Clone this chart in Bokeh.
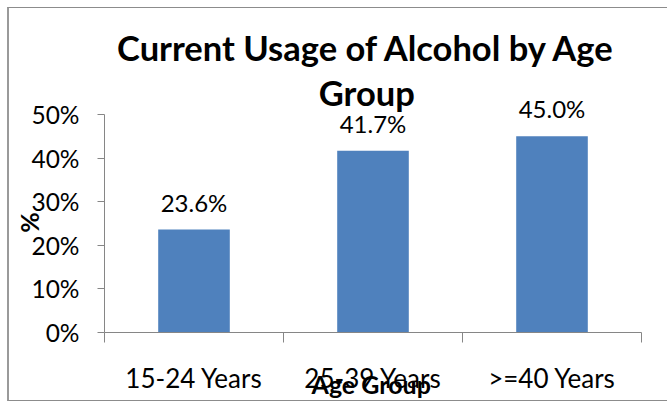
import numpy as np
from bokeh.plotting import figure
from bokeh.models import Range1d, FixedTicker, LabelSet, Label, ColumnDataSource
from bokeh.core.properties import value
from bokeh.embed import file_html
from bokeh.resources import INLINE

categories = ["15-24 Years", "25-39 Years", ">=40 Years"]
values = [0.236, 0.417, 0.450]
value_labels = ["23.6%", "41.7%", "45.0%"]
y_ticks = [0.0, 0.1, 0.2, 0.3, 0.4, 0.5]
y_tick_labels = ["0%", "10%", "20%", "30%", "40%", "50%"]
title_lines = ["Current Usage of Alcohol by Age", "Group"]
x_title = "Age Group"
y_title = "%"

FONT = "Lato"
AXIS_COLOR = "#868686"
BAR_COLOR = "#4F81BD"

# canvas geometry (pixels)
W, H = 660, 394
X0_PX, XN_PX = 95, 632      # x axis start / end on canvas
Y0_PX, YTOP_PX = 324, 106   # 0% and 50% on canvas
n = len(categories)
ux = (XN_PX - X0_PX) / n
uy = (Y0_PX - YTOP_PX) / 0.5

centers = np.arange(n) + 0.5
src = ColumnDataSource(dict(x=centers, top=values, label=value_labels))

p = figure(width=W, height=H, output_backend="svg", toolbar_location=None,
           x_range=Range1d(-X0_PX / ux, (W - X0_PX) / ux),
           y_range=Range1d(-(H - Y0_PX) / uy, Y0_PX / uy),
           min_border=0, min_border_left=0, min_border_right=0,
           min_border_top=0, min_border_bottom=0)
p.styles = {"margin-left": "7px", "margin-top": "7px",
            "border-left": "2px solid #9a9a9a", "border-top": "1px solid #8c8c8c",
            "border-bottom": "1px solid #8c8c8c"}
p.grid.visible = False
p.outline_line_color = None
p.background_fill_color = "white"
p.border_fill_color = "white"

p.vbar(x="x", top="top", width=0.4, source=src, fill_color=BAR_COLOR, line_color=None)

xa = p.xaxis[0]
xa.fixed_location = 0
xa.bounds = (0, n)
xa.ticker = FixedTicker(ticks=list(centers), minor_ticks=list(range(n + 1)))
xa.major_label_overrides = {float(c): cat for c, cat in zip(centers, categories)}
xa.major_tick_line_color = None
xa.major_tick_out = 0
xa.major_tick_in = 0
xa.minor_tick_out = 10
xa.minor_tick_in = 0
xa.minor_tick_line_color = AXIS_COLOR
xa.axis_line_color = AXIS_COLOR
xa.major_label_standoff = 19
xa.major_label_text_font = FONT
xa.major_label_text_font_size = "26px"
xa.major_label_text_color = "black"

ya = p.yaxis[0]
ya.fixed_location = 0
ya.bounds = (0, 0.5)
ya.ticker = FixedTicker(ticks=y_ticks, minor_ticks=[])
ya.major_label_overrides = {t: l for t, l in zip(y_ticks, y_tick_labels)}
ya.major_tick_out = 7
ya.major_tick_in = 0
ya.major_tick_line_color = AXIS_COLOR
ya.axis_line_color = AXIS_COLOR
ya.major_label_standoff = 18
ya.major_label_text_font = FONT
ya.major_label_text_font_size = "24.5px"
ya.major_label_text_color = "black"

labels = LabelSet(x="x", y="top", text="label", source=src, y_offset=18,
                  text_align="center", text_baseline="alphabetic",
                  text_font=value(FONT), text_font_size=value("24px"),
                  text_color=value("black"))
p.add_layout(labels)

def add_text(x, y, text, size, bold=True, angle=0.0):
    p.add_layout(Label(x=x, y=y, text=text, text_align="center",
                       text_baseline="middle", angle=angle, text_font=FONT,
                       text_font_style="bold" if bold else "normal",
                       text_font_size=size, text_color="black"))

add_text(1.465, 0.6537, title_lines[0], "34.5px")
add_text(1.465, 0.5505, title_lines[1], "34.5px")
add_text(1.49, -0.117, x_title, "25px")
add_text(-0.42, 0.2523, y_title, "25px", angle=np.pi / 2)

open("out.html", "w").write(file_html(p, INLINE))
